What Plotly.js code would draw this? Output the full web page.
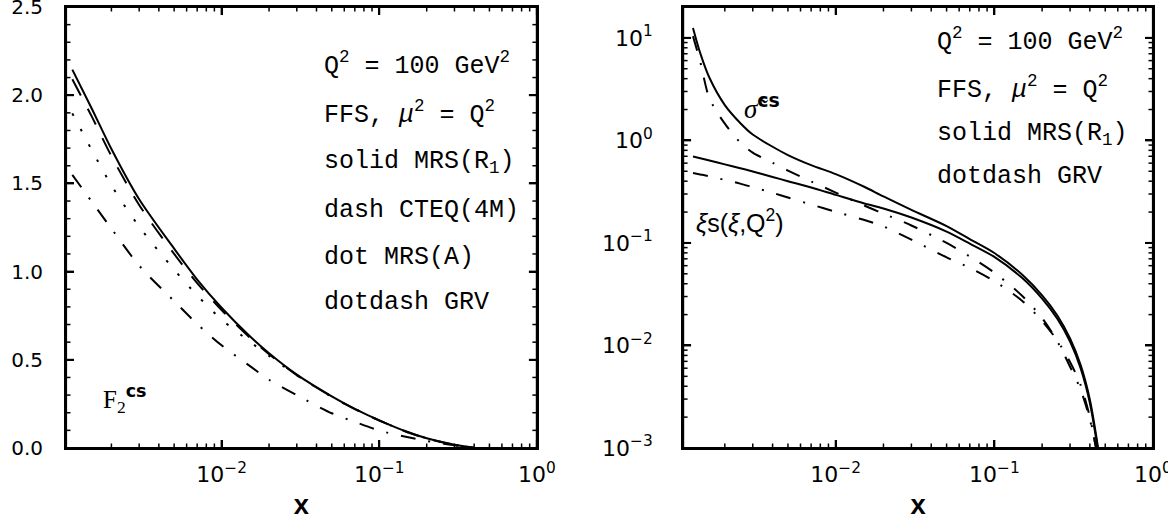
<!DOCTYPE html>
<html>
<head>
<meta charset="utf-8">
<script src="https://cdn.plot.ly/plotly-3.0.1.min.js"></script>
<style>
html,body{margin:0;padding:0;background:#fff;}
#chart{width:1168px;height:522px;}
</style>
</head>
<body>
<div id="chart"></div>
<script>
// ---- Left panel: F2^cs vs x ----
const xLeft = [0.00113, 0.0015, 0.002, 0.003, 0.005, 0.007, 0.01, 0.015, 0.02, 0.03, 0.05, 0.07, 0.1, 0.15, 0.2, 0.3, 0.4];
const f2MRSR1 = [2.145, 1.925, 1.695, 1.41, 1.13, 0.955, 0.795, 0.636, 0.537, 0.416, 0.293, 0.222, 0.157, 0.092, 0.055, 0.018, 0.001];
const f2CTEQ4M = [2.09, 1.88, 1.655, 1.378, 1.1, 0.935, 0.782, 0.628, 0.532, 0.413, 0.291, 0.221, 0.156, 0.091, 0.054, 0.018, 0.001];
const f2MRSA = [1.897, 1.69, 1.489, 1.255, 1.011, 0.865, 0.728, 0.605, 0.522, 0.412, 0.29, 0.222, 0.156, 0.09, 0.055, 0.018, 0.001];
const f2GRV = [1.548, 1.397, 1.244, 1.034, 0.833, 0.703, 0.582, 0.467, 0.387, 0.299, 0.197, 0.148, 0.099, 0.062, 0.04, 0.015, 0.001];

// ---- Right panel: sigma~^cs (upper pair) and xi s(xi,Q^2) (lower pair) ----
const xRight = [0.00126, 0.0014, 0.0016, 0.002, 0.0025, 0.003, 0.004, 0.005, 0.007, 0.01, 0.015, 0.02, 0.03, 0.05, 0.07, 0.1, 0.15, 0.2, 0.25, 0.3, 0.35, 0.4, 0.45];
const sigMRSR1 = [12.5, 7.1, 4.08, 2.21, 1.48, 1.14, 0.867, 0.72, 0.574, 0.469, 0.355, 0.284, 0.21, 0.146, 0.109, 0.0798, 0.0489, 0.0308, 0.0195, 0.0117, 0.00643, 0.00296, 0.00102];
const xisMRSR1 = [0.698, 0.671, 0.637, 0.584, 0.535, 0.498, 0.44, 0.40, 0.347, 0.294, 0.244, 0.217, 0.177, 0.129, 0.0986, 0.0731, 0.0454, 0.0286, 0.0181, 0.0109, 0.00597, 0.00275, 0.00095];
const sigGRV = [10.4, 5.86, 2.57, 1.455, 0.955, 0.759, 0.604, 0.508, 0.398, 0.31, 0.233, 0.193, 0.148, 0.1, 0.0738, 0.0513, 0.0304, 0.0185, 0.0109, 0.0062, 0.0037, 0.0019, 0.0008];
const xisGRV = [0.481, 0.466, 0.447, 0.411, 0.379, 0.35, 0.308, 0.277, 0.237, 0.201, 0.168, 0.145, 0.1076, 0.0723, 0.0571, 0.0424, 0.0272, 0.0173, 0.0111, 0.0069, 0.0041, 0.002, 0.0008];

// ---- Tick values and labels ----
const xTickVals = [0.01, 0.1, 1];
const xTickText = ['10<sup>−2</sup>', '10<sup>−1</sup>', '10<sup>0</sup>'];
const xMinorVals = [0.002,0.003,0.004,0.005,0.006,0.007,0.008,0.009,0.02,0.03,0.04,0.05,0.06,0.07,0.08,0.09,0.2,0.3,0.4,0.5,0.6,0.7,0.8,0.9];
const yLeftTickVals = [0, 0.5, 1.0, 1.5, 2.0, 2.5];
const yLeftTickText = ['0.0', '0.5', '1.0', '1.5', '2.0', '2.5'];
const yLeftMinorVals = [0.1,0.2,0.3,0.4,0.6,0.7,0.8,0.9,1.1,1.2,1.3,1.4,1.6,1.7,1.8,1.9,2.1,2.2,2.3,2.4];
const yRightTickVals = [0.001, 0.01, 0.1, 1, 10];
const yRightTickText = ['10<sup>−3</sup>', '10<sup>−2</sup>', '10<sup>−1</sup>', '10<sup>0</sup>', '10<sup>1</sup>'];
const yRightMinorVals = [0.002,0.003,0.004,0.005,0.006,0.007,0.008,0.009,0.02,0.03,0.04,0.05,0.06,0.07,0.08,0.09,0.2,0.3,0.4,0.5,0.6,0.7,0.8,0.9,2,3,4,5,6,7,8,9];

// ---- Text labels ----
const leftLabels = ['Q<sup>2</sup> = 100 GeV<sup>2</sup>', 'FFS, <i>μ</i><sup>2</sup> = Q<sup>2</sup>', 'solid MRS(R<sub>1</sub>)', 'dash CTEQ(4M)', 'dot MRS(A)', 'dotdash GRV'];
const rightLabels = ['Q<sup>2</sup> = 100 GeV<sup>2</sup>', 'FFS, <i>μ</i><sup>2</sup> = Q<sup>2</sup>', 'solid MRS(R<sub>1</sub>)', 'dotdash GRV'];
const leftCurveLabel = 'F<sub>2</sub><sup><span style="font-family:DejaVu Sans;font-weight:bold">cs</span></sup>';
const sigmaLabel = '<i>σ̃</i><sup><span style="font-family:DejaVu Sans;font-weight:bold">cs</span></sup>';
const xisLabel = '<i>ξ</i>s(<i>ξ</i>,Q<sup>2</sup>)';
const xTitle = 'x';

// axis ranges (axis units: log10 for log axes)
const xRangeL = [-2.987, 0], yRangeL = [0, 2.5];
const xRangeR = [-2.962, 0], yRangeR = [-3, 1.301];

const LW = 2;
function tr(x, y, dash, xa, ya) {
  return {x: x, y: y, xaxis: xa, yaxis: ya, mode: 'lines', type: 'scatter',
    line: {color: 'black', width: LW, dash: dash, shape: 'spline', smoothing: 0.8}, hoverinfo: 'skip'};
}
const DOTDASH = '15px,13px,2px,13px';
const data = [
  tr(xLeft, f2MRSR1, 'solid', 'x', 'y'),
  tr(xLeft, f2CTEQ4M, '18px,15px', 'x', 'y'),
  tr(xLeft, f2MRSA, '2.5px,15px', 'x', 'y'),
  tr(xLeft, f2GRV, DOTDASH, 'x', 'y'),
  tr(xRight, sigMRSR1, 'solid', 'x2', 'y2'),
  tr(xRight, xisMRSR1, 'solid', 'x2', 'y2'),
  tr(xRight, sigGRV, DOTDASH, 'x2', 'y2'),
  tr(xRight, xisGRV, DOTDASH, 'x2', 'y2')
];

// ---- tick marks as thin line traces at the tick values (inside, on all four sides) ----
function toData(u, isLog) { return isLog ? Math.pow(10, u) : u; }
function tickTrace(xa, ya, xr, yr, xLog, yLog, xVals, yVals, lenPxX, lenPxY, wPx, hPx, width) {
  const X = [], Y = [];
  const fy = lenPxX / hPx * (yr[1] - yr[0]);   // vertical tick length in y-axis units
  const fx = lenPxY / wPx * (xr[1] - xr[0]);   // horizontal tick length in x-axis units
  xVals.forEach(v => {
    X.push(v, v, null, v, v, null);
    Y.push(toData(yr[0], yLog), toData(yr[0] + fy, yLog), null, toData(yr[1] - fy, yLog), toData(yr[1], yLog), null);
  });
  yVals.forEach(v => {
    Y.push(v, v, null, v, v, null);
    X.push(toData(xr[0], xLog), toData(xr[0] + fx, xLog), null, toData(xr[1] - fx, xLog), toData(xr[1], xLog), null);
  });
  return {x: X, y: Y, xaxis: xa, yaxis: ya, mode: 'lines', type: 'scatter', connectgaps: false,
    line: {color: 'black', width: width}, hoverinfo: 'skip', cliponaxis: true};
}
data.push(tickTrace('x', 'y', xRangeL, yRangeL, true, false, xTickVals, yLeftTickVals, 8, 8, 471, 441, 2));
data.push(tickTrace('x', 'y', xRangeL, yRangeL, true, false, xMinorVals, yLeftMinorVals, 4.5, 4.5, 471, 441, 1.5));
data.push(tickTrace('x2', 'y2', xRangeR, yRangeR, true, true, xTickVals, yRightTickVals, 8, 8, 470, 441, 2));
data.push(tickTrace('x2', 'y2', xRangeR, yRangeR, true, true, xMinorVals, yRightMinorVals, 4.5, 4.5, 470, 441, 1.5));

const tickFontLin = {family: 'DejaVu Sans, Liberation Sans, sans-serif', size: 20, color: 'black'};
const tickFontLog = {family: 'DejaVu Sans, Liberation Sans, sans-serif', size: 22, color: 'black'};
const titleFont = {family: 'Liberation Mono, Courier New, monospace', size: 27, color: 'black', weight: 'bold'};

function axBase() {
  return {showline: true, linewidth: 2, linecolor: 'black', mirror: 'allticks',
    ticks: 'inside', ticklen: 8, tickwidth: 2, tickcolor: 'black',
    showgrid: false, zeroline: false, ticklabeloverflow: 'allow'};
}
const xa = Object.assign(axBase(), {type: 'log', domain: [0, 0.4332], range: xRangeL, anchor: 'y',
  tickmode: 'array', tickvals: xTickVals, ticktext: xTickText, tickfont: tickFontLog, ticklabelstandoff: 6,
  title: {text: xTitle, font: titleFont, standoff: 10}});
const xa2 = Object.assign(axBase(), {type: 'log', domain: [0.5677, 1], range: xRangeR, anchor: 'y2',
  tickmode: 'array', tickvals: xTickVals, ticktext: xTickText, tickfont: tickFontLog, ticklabelstandoff: 6,
  title: {text: xTitle, font: titleFont, standoff: 10}});
const ya = Object.assign(axBase(), {range: yRangeL, domain: [0, 1], anchor: 'x',
  tickmode: 'array', tickvals: yLeftTickVals, ticktext: yLeftTickText, tickfont: tickFontLin,
  ticklabelstandoff: 17});
const ya2 = Object.assign(axBase(), {type: 'log', range: yRangeR, domain: [0, 1], anchor: 'x2',
  tickmode: 'array', tickvals: yRightTickVals, ticktext: yRightTickText, tickfont: tickFontLog,
  ticklabelstandoff: 24});

const txtFont = {family: 'Liberation Mono, Courier New, monospace', size: 25, color: 'black'};
const annotations = [];
const leftRowsPx = [64, 113, 163, 210, 257, 302];
leftLabels.forEach((t, i) => annotations.push({xref: 'x domain', yref: 'y domain', x: 0.5435, y: (448 - leftRowsPx[i]) / 441,
  xanchor: 'left', yanchor: 'middle', text: t, showarrow: false, font: txtFont}));
const rightRowsPx = [40, 88, 134, 177];
rightLabels.forEach((t, i) => annotations.push({xref: 'x2 domain', yref: 'y2 domain', x: 0.536, y: (448 - rightRowsPx[i]) / 441,
  xanchor: 'left', yanchor: 'middle', text: t, showarrow: false, font: txtFont}));
annotations.push({xref: 'x domain', yref: 'y domain', x: (101 - 66) / 471, y: (448 - 399) / 441, xanchor: 'left', yanchor: 'middle',
  text: leftCurveLabel, showarrow: false, font: {family: 'Liberation Serif, serif', size: 25, color: 'black'}});
annotations.push({xref: 'x2 domain', yref: 'y2 domain', x: (742 - 683.3) / 470, y: (448 - 107) / 441, xanchor: 'left', yanchor: 'middle',
  text: sigmaLabel, showarrow: false, font: {family: 'Liberation Serif, serif', size: 27, color: 'black'}});
annotations.push({xref: 'x2 domain', yref: 'y2 domain', x: (694 - 683.3) / 470, y: (448 - 221) / 441, xanchor: 'left', yanchor: 'middle',
  text: xisLabel, showarrow: false, font: {family: 'Liberation Sans, Arial, sans-serif', size: 25, color: 'black'}});

const frame = (xr, yr) => ({type: 'rect', xref: xr, yref: yr, x0: 0, x1: 1, y0: 0, y1: 1,
  line: {color: 'black', width: 2.2}, fillcolor: 'rgba(0,0,0,0)', layer: 'above'});

const layout = {
  width: 1168, height: 522,
  margin: {l: 66, r: 14.7, t: 7, b: 74},
  paper_bgcolor: 'white', plot_bgcolor: 'white', showlegend: false,
  xaxis: xa, yaxis: ya, xaxis2: xa2, yaxis2: ya2,
  annotations: annotations,
  shapes: [frame('x domain', 'y domain'), frame('x2 domain', 'y2 domain')]
};
Plotly.newPlot('chart', data, layout, {staticPlot: true, displayModeBar: false});
</script>
</body>
</html>
